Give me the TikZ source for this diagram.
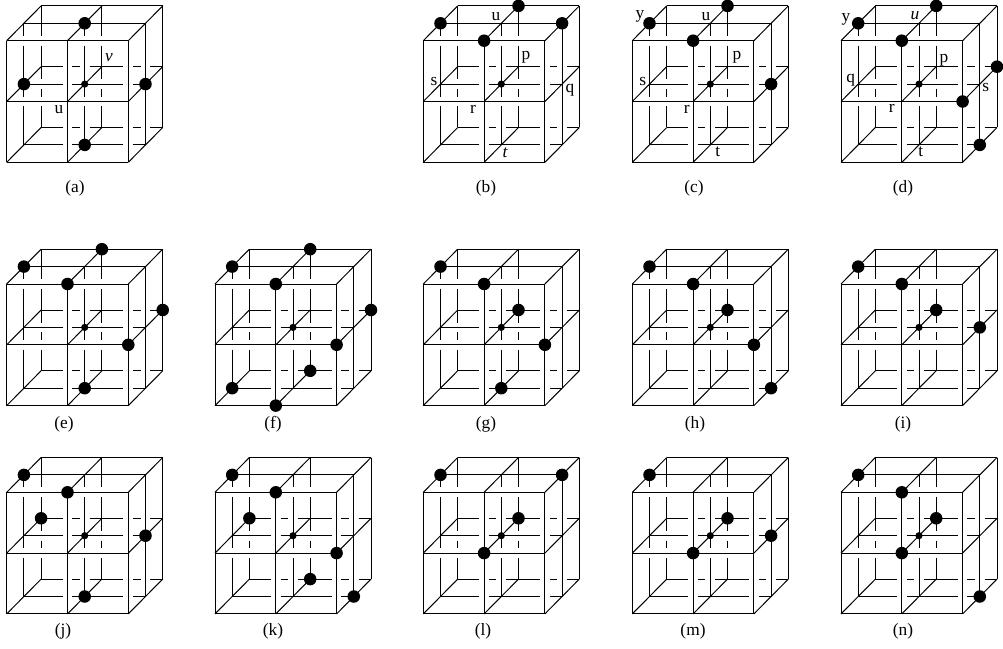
\documentclass[tikz,border=0pt]{standalone}
\usepackage{fontspec}
\setmainfont{Liberation Serif}
\tikzset{
  cubeline/.style={line width=0.75pt,black,line cap=butt},
  capt/.style={font=\fontsize{13}{15}\selectfont,inner sep=0pt},
  lbl/.style={font=\fontsize{13}{15}\selectfont,inner sep=0pt},
}
% #1,#2 origin in pixels, #3 list of big dots i/j/k
\newcommand{\latticecube}[3]{%
\begin{scope}[shift={(#1,#2)},x={(45.6pt,0pt)},y={(0pt,-45.6pt)},z={(12.9pt,13.05pt)}]
  % back plane verticals
  \foreach \i in {0,1}
    \foreach \a/\b in {0/.492,.652/1.206,1.366/1.492,1.652/2}
      \draw[cubeline] (\i,\a,2) -- (\i,\b,2);
  \draw[cubeline] (2,0,2) -- (2,2,2);
  % back plane horizontals
  \draw[cubeline] (0,0,2) -- (2,0,2);
  \foreach \j in {1,2}
    \foreach \a/\b in {0/.354,.514/.637,.797/1.354,1.514/1.637,1.797/2}
      \draw[cubeline] (\a,\j,2) -- (\b,\j,2);
  % middle plane verticals
  \foreach \i in {0,1}
    \foreach \a/\b in {0/.206,.366/1.206,1.366/2}
      \draw[cubeline] (\i,\a,1) -- (\i,\b,1);
  \draw[cubeline] (2,0,1) -- (2,2,1);
  % middle plane horizontals
  \draw[cubeline] (0,0,1) -- (2,0,1);
  \foreach \j in {1,2}
    \foreach \a/\b in {0/.637,.797/1.637,1.797/2}
      \draw[cubeline] (\a,\j,1) -- (\b,\j,1);
  % depth edges
  \foreach \i in {0,1,2}
    \foreach \j in {0,1,2}
      \draw[cubeline] (\i,\j,0) -- (\i,\j,2);
  % front plane
  \foreach \i in {0,1,2} \draw[cubeline] (\i,0,0) -- (\i,2,0);
  \foreach \j in {0,1,2} \draw[cubeline] (0,\j,0) -- (2,\j,0);
  % dots
  \fill (1,1,1) circle[radius=2.7pt];
  \foreach \i/\j/\k in {#3}
    \fill (\i,\j,\k) circle[radius=4.7pt];
\end{scope}}
\begin{document}
\begin{tikzpicture}[x=0.75pt,y=-0.75pt]
\useasboundingbox (0,0) rectangle (1003,649);
% row 1
\latticecube{6.7}{40.7}{1/0/1,0/1/1,2/1/1,1/2/1}
\latticecube{423.3}{40.7}{0/0/1,1/0/2,2/0/1,1/0/0}
\latticecube{632.3}{40.7}{0/0/1,1/0/2,1/0/0,2/1/1}
\latticecube{841}{40.7}{0/0/1,1/0/2,1/0/0,2/1/2,2/1/0,2/2/1}
% row 2
\latticecube{6.7}{284}{0/0/1,1/0/2,1/0/0,2/1/2,2/1/0,1/2/1}
\latticecube{215}{284}{0/0/1,1/0/2,1/0/0,2/1/2,2/1/0,0/2/1,1/2/2,1/2/0}
\latticecube{423.3}{284}{0/0/1,1/0/0,1/1/2,2/1/0,1/2/1}
\latticecube{632.3}{284}{0/0/1,1/0/0,1/1/2,2/1/0,2/2/1}
\latticecube{841}{284}{0/0/1,1/0/0,1/1/2,2/1/1}
% row 3
\latticecube{6.7}{492.3}{0/0/1,1/0/0,0/1/2,2/1/1,1/2/1}
\latticecube{215}{492.3}{0/0/1,1/0/0,0/1/2,2/1/0,1/2/2,2/2/1}
\latticecube{423.3}{492.3}{0/0/1,2/0/1,1/1/2,1/1/0}
\latticecube{632.3}{492.3}{0/0/1,1/1/2,1/1/0,2/1/1}
\latticecube{841}{492.3}{0/0/1,1/0/0,1/1/2,1/1/0,2/2/1}
% captions
\node[capt] (capa) at (75,188) {(a)};
\node[capt] (capb) at (486,188) {(b)};
\node[capt] (capc) at (694,188) {(c)};
\node[capt] (capd) at (903,188) {(d)};
\node[capt] (cape) at (64,424) {(e)};
\node[capt] (capf) at (273,424) {(f)};
\node[capt] (capg) at (486,424) {(g)};
\node[capt] (caph) at (695,424) {(h)};
\node[capt] (capi) at (903,424) {(i)};
\node[capt] (capj) at (63,631) {(j)};
\node[capt] (capk) at (273,631) {(k)};
\node[capt] (capl) at (483,631) {(l)};
\node[capt] (capm) at (693,631) {(m)};
\node[capt] (capn) at (903,631) {(n)};
% labels a
\node[lbl] (au) at (59,110) {u};
\node[lbl] (av) at (109,58) {\itshape v};
% labels b
\node[lbl] (bu) at (496,16.7) {u};
\node[lbl] (bp) at (526,57) {p};
\node[lbl] (bs) at (434,81.7) {s};
\node[lbl] (bq) at (570,90) {q};
\node[lbl] (br) at (473,109) {r};
\node[lbl] (bt) at (505,152.7) {\itshape t};
% labels c
\node[lbl] (cy) at (640,16.7) {y};
\node[lbl] (cu) at (706,16.7) {u};
\node[lbl] (cp) at (737,57) {p};
\node[lbl] (cs) at (642.7,81.7) {s};
\node[lbl] (cr) at (686.7,109) {r};
\node[lbl] (ct) at (717.7,152) {t};
% labels d
\node[lbl] (dy) at (846,19) {y};
\node[lbl] (du) at (915,16) {\itshape u};
\node[lbl] (dp) at (944,60.7) {p};
\node[lbl] (dq) at (850.7,80) {q};
\node[lbl] (ds) at (985.7,88) {s};
\node[lbl] (dr) at (891.7,108) {r};
\node[lbl] (dt) at (920.7,152) {t};
\end{tikzpicture}
\end{document}
